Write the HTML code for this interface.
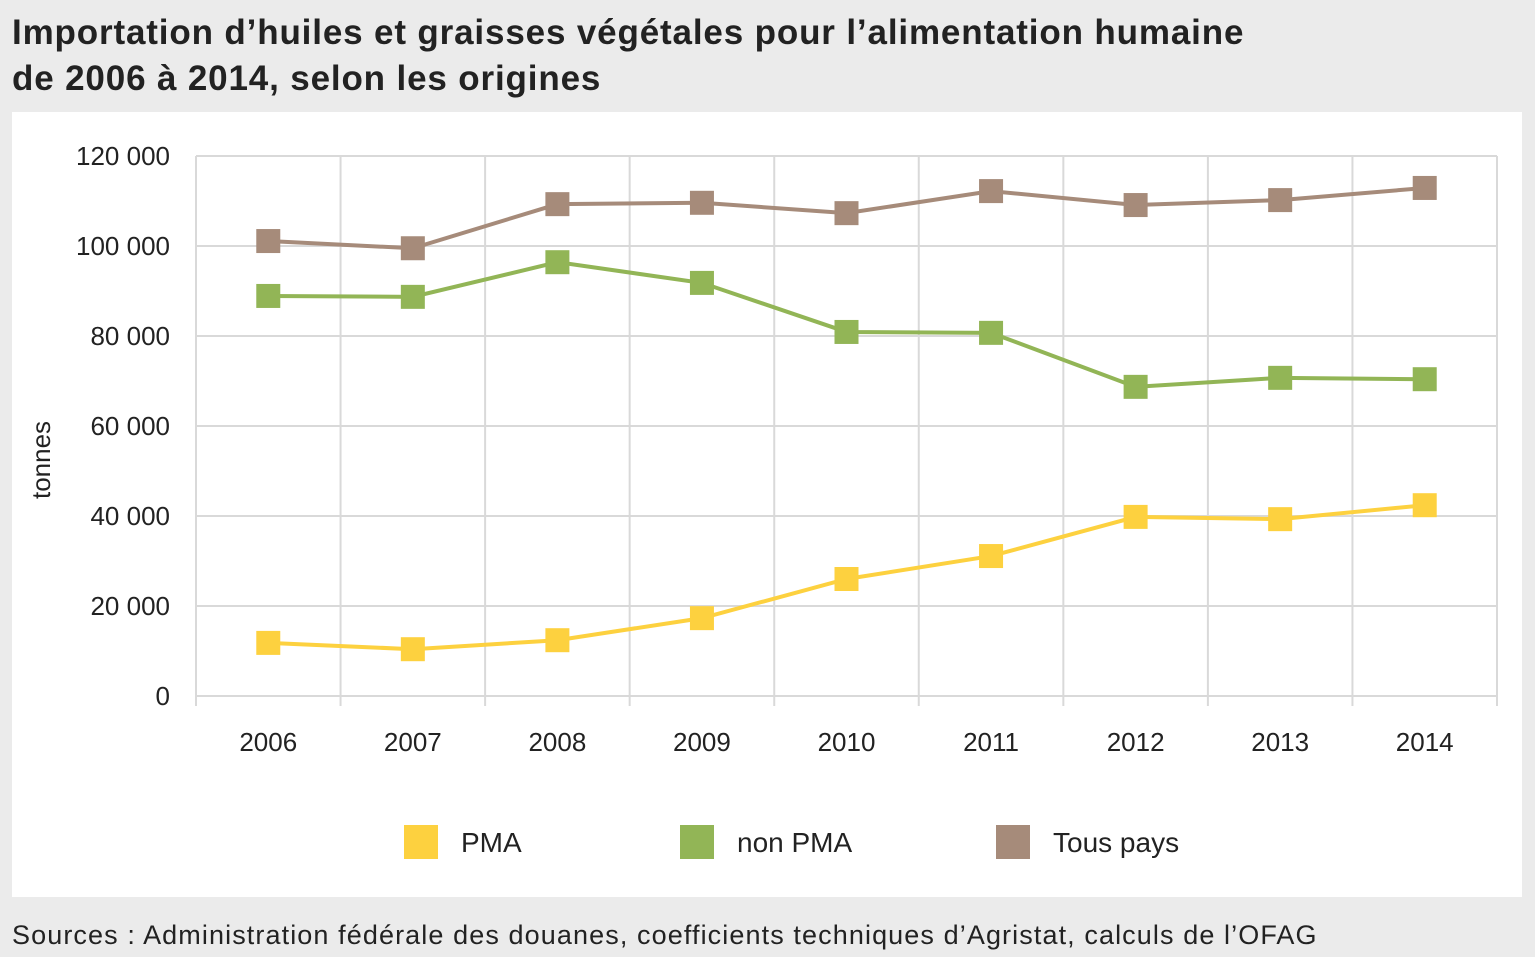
<!DOCTYPE html>
<html><head><meta charset="utf-8"><style>
body{margin:0;width:1535px;height:957px;background:#ebebeb;font-family:"Liberation Sans",sans-serif;overflow:hidden;position:relative}
#title{position:absolute;left:12px;top:10px;font-size:35px;font-weight:bold;line-height:46px;color:#222;letter-spacing:0.85px}
#panel{position:absolute;left:12px;top:112px;width:1510px;height:785px;background:#fff}
#src{position:absolute;left:12px;top:920px;font-size:27px;color:#222;letter-spacing:1.1px}
svg text{font-family:"Liberation Sans",sans-serif;fill:#222}
</style></head><body>
<div id="title">Importation d’huiles et graisses végétales pour l’alimentation humaine<br>de 2006 à 2014, selon les origines</div>
<div id="panel"></div>
<div id="src">Sources : Administration fédérale des douanes, coefficients techniques d’Agristat, calculs de l’OFAG</div>
<svg id="chart" width="1535" height="957" style="position:absolute;left:0;top:0"></svg>
<script>
const years=["2006","2007","2008","2009","2010","2011","2012","2013","2014"];
const pma=[11800,10400,12400,17300,26000,31100,39800,39300,42400];
const nonPma=[88900,88700,96400,91800,80900,80700,68700,70700,70400];
const tous=[101100,99500,109300,109600,107300,112200,109100,110200,112900];
const yTicks=[0,20000,40000,60000,80000,100000,120000];
const NS="http://www.w3.org/2000/svg";
const svg=document.getElementById('chart');
const x0=196,x1=1497,y0=696,y1=156,ymax=120000;
const bw=(x1-x0)/years.length;
const xs=i=>x0+bw*(i+0.5);
const ys=v=>y0-(v/ymax)*(y0-y1);
function mk(t,a){const e=document.createElementNS(NS,t);for(const k in a)e.setAttribute(k,a[k]);svg.appendChild(e);return e;}
const fmt=v=>v===0?"0":(Math.floor(v/1000)+" "+String(v%1000).padStart(3,"0"));
yTicks.forEach(v=>{
 const g=mk('line',{x1:x0,x2:x1,y1:ys(v),y2:ys(v),stroke:'#d9d9d9','stroke-width':2});
 
 
 const t=mk('text',{x:170,y:ys(v)+9,'text-anchor':'end','font-size':26});
 t.textContent=fmt(v);
 
 
});
for(let i=0;i<=years.length;i++){
 const g=mk('line',{x1:x0+bw*i,x2:x0+bw*i,y1:y1,y2:y0+10,stroke:'#d9d9d9','stroke-width':2});
 
 
}
years.forEach((y,i)=>{
 const t=mk('text',{x:xs(i),y:751,'text-anchor':'middle','font-size':26});
 t.textContent=y;
 
 
});
const yt=mk('text',{x:0,y:0,'text-anchor':'middle','font-size':26,transform:'translate(50,460) rotate(-90)'});
yt.textContent='tonnes';


const series=[[pma,'#fdd13f','pma'],[nonPma,'#92b556','non-pma'],[tous,'#a68b7a','tous-pays']];
series.forEach(([d,c,n])=>{
 const p=mk('polyline',{points:d.map((v,i)=>xs(i)+','+ys(v)).join(' '),fill:'none',stroke:c,'stroke-width':4});
 
 
 d.forEach((v,i)=>{
  const r=mk('rect',{x:xs(i)-12,y:ys(v)-12,width:24,height:24,fill:c});
  
  
 });
});
const leg=[['PMA','#fdd13f',404],['non PMA','#92b556',680],['Tous pays','#a68b7a',996]];
leg.forEach(([l,c,x])=>{
 const r=mk('rect',{x:x,y:825,width:34,height:34,fill:c});
 
 
 const t=mk('text',{x:x+57,y:852,'font-size':28});
 t.textContent=l;
 
 
});
</script>
</body></html>
